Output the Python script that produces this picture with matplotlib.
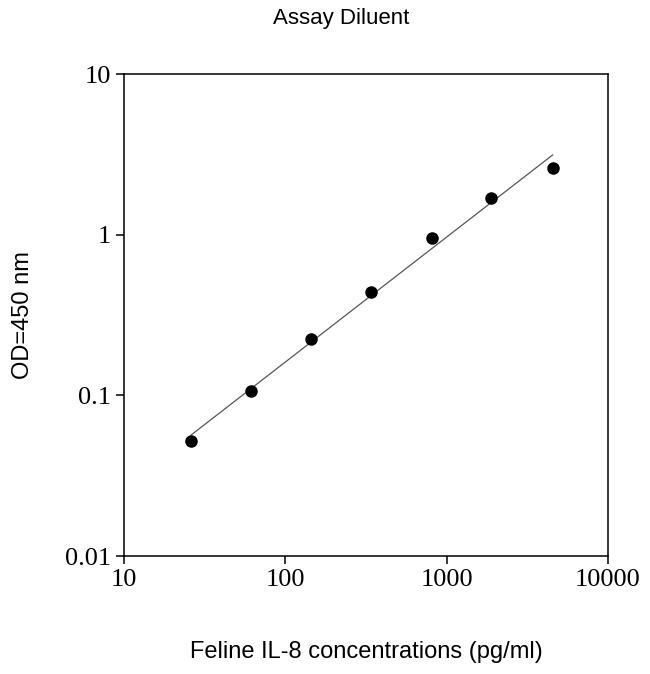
import numpy as np
import matplotlib
matplotlib.use("Agg")
import matplotlib.pyplot as plt
from matplotlib.ticker import FixedLocator, NullLocator, FixedFormatter

# Standard curve readings
conc = [26, 61, 144, 340, 815, 1880, 4550]
od = [0.052, 0.106, 0.224, 0.44, 0.955, 1.69, 2.6]

x_ticks = [10, 100, 1000, 10000]
x_labels = ["10", "100", "1000", "10000"]
y_ticks = [0.01, 0.1, 1, 10]
y_labels = ["0.01", "0.1", "1", "10"]

fig = plt.figure(figsize=(6.5, 6.74), dpi=100)
ax = fig.add_axes([0.191, 0.175, 0.744, 0.715])

# log-log linear fit
lx, ly = np.log10(conc), np.log10(od)
k, b = np.polyfit(lx, ly, 1)
fx = np.array([lx[0], lx[-1]])
ax.plot(10 ** fx, 10 ** (k * fx + b), color="#555555", linewidth=0.9)
ax.plot(conc, od, "o", color="black", markersize=8)

ax.set_xscale("log")
ax.set_yscale("log")
ax.set_xlim(10, 10000)
ax.set_ylim(0.01, 10)
ax.xaxis.set_major_locator(FixedLocator(x_ticks))
ax.xaxis.set_major_formatter(FixedFormatter(x_labels))
ax.yaxis.set_major_locator(FixedLocator(y_ticks))
ax.yaxis.set_major_formatter(FixedFormatter(y_labels))
ax.xaxis.set_minor_locator(NullLocator())
ax.yaxis.set_minor_locator(NullLocator())
ax.tick_params(direction="out", length=6, labelsize=19, width=1.1)
for s in ax.spines.values():
    s.set_linewidth(1.1)
for lab in ax.get_xticklabels() + ax.get_yticklabels():
    lab.set_family("Liberation Serif")

ax.set_xlabel("Feline IL-8 concentrations (pg/ml)", fontsize=17,
              family="Liberation Sans", labelpad=36)
ax.set_ylabel("OD=450 nm", fontsize=17, family="Liberation Sans", labelpad=22)
fig.text(0.525, 0.972, "Assay Diluent", ha="center", va="center",
         fontsize=16, family="Liberation Sans")

fig.savefig("out.png", dpi=100)
